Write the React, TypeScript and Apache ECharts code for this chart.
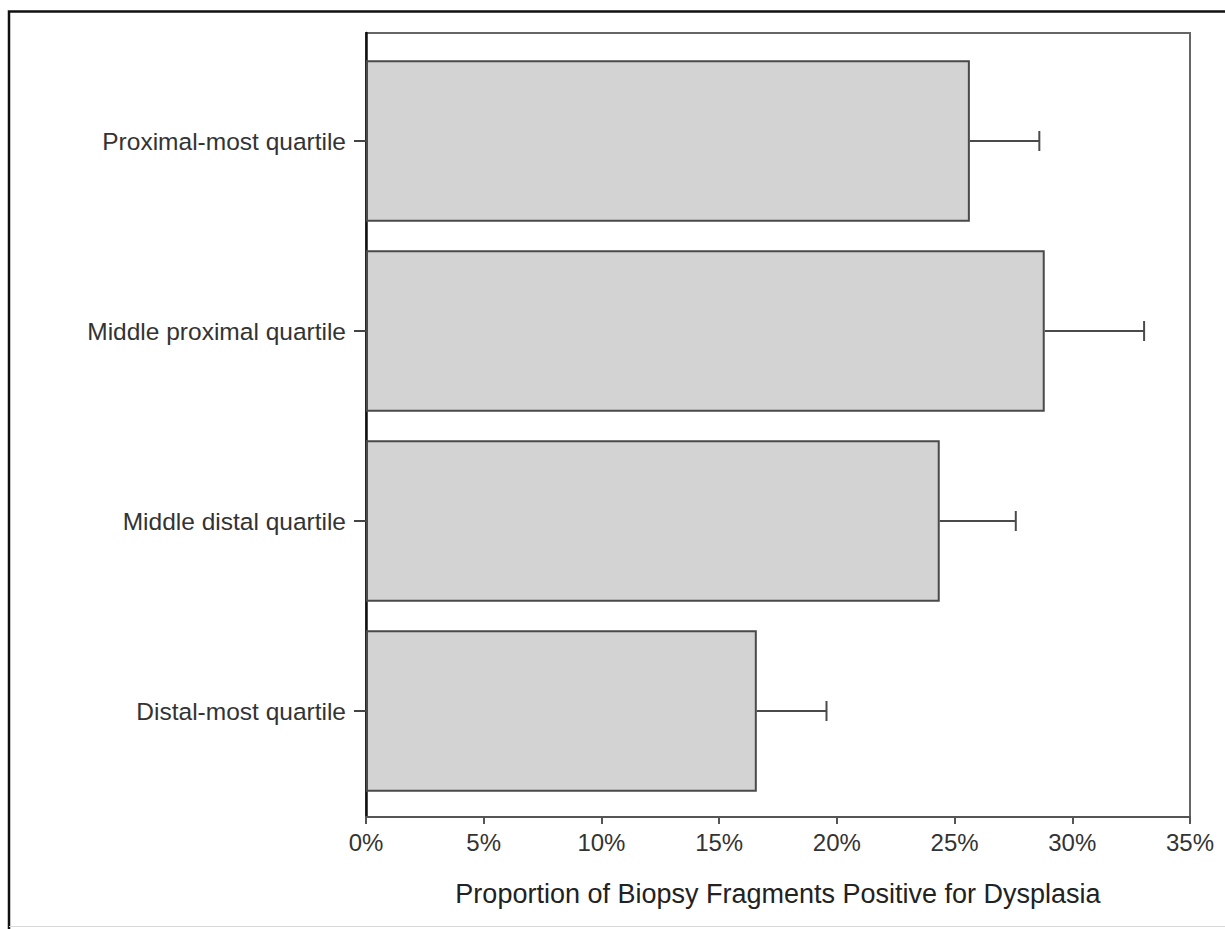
import React, { useEffect, useRef } from "react";
import * as echarts from "echarts";

const categories = [
  "Proximal-most quartile",
  "Middle proximal quartile",
  "Middle distal quartile",
  "Distal-most quartile",
];
const proportions = [25.65, 28.83, 24.37, 16.6];
const upperLimits = [28.6, 33.05, 27.6, 19.56];
const xMin = 0;
const xMax = 35;
const xStep = 5;
const xTitle = "Proportion of Biopsy Fragments Positive for Dysplasia";

const FONT = '"Liberation Sans", Arial, Helvetica, sans-serif';

export default function App() {
  const ref = useRef<HTMLDivElement>(null);
  useEffect(() => {
    if (!ref.current) return;
    const chart = echarts.init(ref.current, null, { renderer: "svg" });
    const errorData = categories.map((_, i) => [i, proportions[i], upperLimits[i]]);
    chart.setOption({
      animation: false,
      backgroundColor: "#fff",
      textStyle: { fontFamily: FONT },
      graphic: [
        {
          type: "polyline",
          shape: { points: [[9, 929], [9, 11.5], [1230, 11.5]] },
          style: { stroke: "#111", lineWidth: 2.5, fill: null },
          silent: true,
        },
        {
          type: "line",
          shape: { x1: 9, y1: 926.5, x2: 1230, y2: 926.5 },
          style: { stroke: "#d8d8d8", lineWidth: 1 },
          silent: true,
        },
      ],
      grid: [
        {
          left: 366,
          right: 35,
          top: 33,
          bottom: 112,
          show: true,
          borderColor: "#666",
          borderWidth: 2,
          backgroundColor: "transparent",
        },
        { left: 366, right: 35, top: 46, bottom: 123 },
      ],
      xAxis: [
        {
          gridIndex: 0,
          type: "value",
          min: xMin,
          max: xMax,
          interval: xStep,
          axisLine: { show: true, lineStyle: { color: "#555", width: 2 } },
          axisTick: { show: true, length: 7, lineStyle: { color: "#555", width: 2 } },
          axisLabel: {
            formatter: "{value}%",
            color: "#333",
            fontSize: 24,
            fontFamily: FONT,
            margin: 13,
          },
          splitLine: { show: false },
          name: xTitle,
          nameLocation: "middle",
          nameGap: 63,
          nameTextStyle: { color: "#222", fontSize: 27, fontFamily: FONT },
        },
        { gridIndex: 1, type: "value", min: xMin, max: xMax, show: false },
      ],
      yAxis: [
        {
          gridIndex: 0,
          type: "value",
          axisLine: { show: true, lineStyle: { color: "#111", width: 2.5 } },
          axisTick: { show: false },
          axisLabel: { show: false },
          splitLine: { show: false },
        },
        {
          gridIndex: 1,
          type: "category",
          data: categories,
          inverse: true,
          axisLine: { show: false },
          axisTick: {
            show: true,
            alignWithLabel: true,
            length: 12,
            lineStyle: { color: "#444", width: 2 },
          },
          axisLabel: {
            color: "#333",
            fontSize: 24.5,
            fontFamily: FONT,
            margin: 20,
          },
          splitLine: { show: false },
        },
      ],
      series: [
        {
          type: "bar",
          xAxisIndex: 1,
          yAxisIndex: 1,
          data: proportions,
          barCategoryGap: "15%",
          itemStyle: { color: "#d3d3d3", borderColor: "#4a4a4a", borderWidth: 2 },
          z: 2,
        },
        {
          type: "custom",
          xAxisIndex: 1,
          yAxisIndex: 1,
          data: errorData,
          z: 3,
          renderItem: (params: any, api: any) => {
            const cat = api.value(0);
            const lo = api.coord([api.value(1), cat]);
            const hi = api.coord([api.value(2), cat]);
            const half = 10;
            const style = { stroke: "#4a4a4a", lineWidth: 2, fill: null };
            return {
              type: "group",
              children: [
                { type: "line", shape: { x1: lo[0], y1: lo[1], x2: hi[0], y2: hi[1] }, style },
                { type: "line", shape: { x1: hi[0], y1: hi[1] - half, x2: hi[0], y2: hi[1] + half }, style },
              ],
            };
          },
        },
      ],
    });
    return () => chart.dispose();
  }, []);
  return (
    <div
      ref={ref}
      style={{ position: "fixed", left: 0, top: 0, width: 1225, height: 929 }}
    />
  );
}
